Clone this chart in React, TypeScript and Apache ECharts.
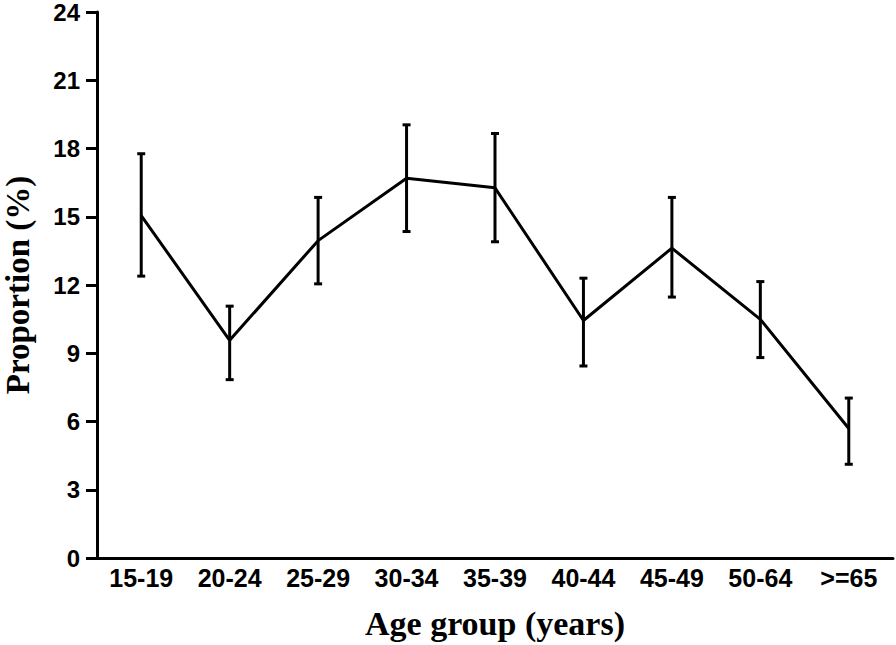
import React, { useEffect, useRef } from "react";
import * as echarts from "echarts";

const categories = ["15-19", "20-24", "25-29", "30-34", "35-39", "40-44", "45-49", "50-64", ">=65"];
const means = [15.05, 9.57, 13.95, 16.69, 16.27, 10.44, 13.62, 10.49, 5.69];
const upper = [17.77, 11.07, 15.85, 19.04, 18.66, 12.3, 15.85, 12.15, 7.03];
const lower = [12.39, 7.84, 12.05, 14.35, 13.9, 8.44, 11.47, 8.81, 4.12];
const yMin = 0;
const yMax = 24;
const yInterval = 3;

const sans = "'Liberation Sans', Arial, sans-serif";
const serif = "'Liberation Serif', 'Times New Roman', serif";

export default function App() {
  const ref = useRef<HTMLDivElement>(null);
  useEffect(() => {
    document.body.style.margin = "0";
    if (!ref.current) return;
    const chart = echarts.init(ref.current, null, { renderer: "svg" });
    const errData = categories.map((_, i) => [i, upper[i], lower[i]]);
    chart.setOption({
      animation: false,
      backgroundColor: "#fff",
      grid: { left: 97, right: 3, top: 12, bottom: 87, containLabel: false, outerBoundsMode: "none" },
      xAxis: {
        type: "category",
        data: categories,
        boundaryGap: true,
        axisLine: { lineStyle: { color: "#000", width: 3 } },
        axisTick: { alignWithLabel: true, length: 10, lineStyle: { color: "#000", width: 3 } },
        axisLabel: { color: "#000", fontFamily: sans, fontWeight: "bold", fontSize: 25, margin: 7, interval: 0 },
        name: "Age group (years)",
        nameLocation: "middle",
        nameGap: 48,
        nameTextStyle: { color: "#000", fontFamily: serif, fontWeight: "bold", fontSize: 34 },
        splitLine: { show: false },
      },
      yAxis: {
        type: "value",
        min: yMin,
        max: yMax,
        interval: yInterval,
        axisLine: { show: true, lineStyle: { color: "#000", width: 3 } },
        axisTick: { show: true, length: 11, lineStyle: { color: "#000", width: 3 } },
        axisLabel: { color: "#000", fontFamily: sans, fontWeight: "bold", fontSize: 24, lineHeight: 22, margin: 17 },
        splitLine: { show: false },
        name: "Proportion (%)",
        nameLocation: "middle",
        nameGap: 63,
        nameTextStyle: { color: "#000", fontFamily: serif, fontWeight: "bold", fontSize: 33 },
      },
      series: [
        {
          type: "line",
          data: means,
          symbol: "none",
          lineStyle: { color: "#000", width: 3 },
          z: 3,
        },
        {
          type: "custom",
          data: errData,
          z: 4,
          renderItem: (params: any, api: any) => {
            const x = api.value(0);
            const hi = api.coord([x, api.value(1)]);
            const lo = api.coord([x, api.value(2)]);
            const w = 4;
            const st = { stroke: "#000", lineWidth: 3 };
            return {
              type: "group",
              children: [
                { type: "line", shape: { x1: hi[0], y1: hi[1], x2: lo[0], y2: lo[1] }, style: st },
                { type: "line", shape: { x1: hi[0] - w, y1: hi[1], x2: hi[0] + w, y2: hi[1] }, style: st },
                { type: "line", shape: { x1: lo[0] - w, y1: lo[1], x2: lo[0] + w, y2: lo[1] }, style: st },
              ],
            };
          },
        },
      ],
    });
    return () => chart.dispose();
  }, []);
  return <div ref={ref} style={{ width: 896, height: 645 }} />;
}
